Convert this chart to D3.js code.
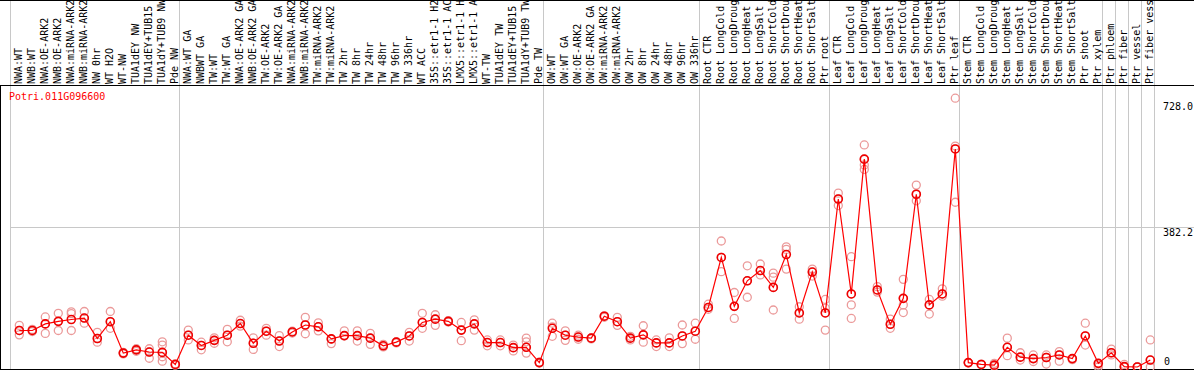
<!DOCTYPE html>
<html>
<head>
<meta charset="utf-8">
<script src="https://cdn.jsdelivr.net/npm/d3@7"></script>
<style>
  html, body { margin: 0; padding: 0; background: #fff; }
  svg { display: block; }
  text { font-family: "DejaVu Sans Mono", "Liberation Mono", monospace; font-size: 10px; }
</style>
</head>
<body>
<svg id="chart" width="1194" height="370"></svg>
<script>
const title = "Potri.011G096600";

const categories = [
  "NWA:WT","NWB:WT","NWA:OE-ARK2","NWB:OE-ARK2","NWA:miRNA-ARK2","NWB:miRNA-ARK2","NW 0hr","WT H2O","WT-NW",
  "TUA1dEY NW","TUA1dEY+TUB15 NW","TUA1dY+TUB9 NW","Pde NW",
  "NWA:WT GA","NWBWT GA","TW:WT","TW:WT GA","NWA:OE-ARK2 GA","NWB:OE-ARK2 GA","TW:OE-ARK2","TW:OE-ARK2 GA",
  "NWA:miRNA-ARK2 GA","NWB:miRNA-ARK2 GA","TW:miRNA-ARK2","TW:miRNA-ARK2",
  "TW 2hr","TW 8hr","TW 24hr","TW 48hr","TW 96hr","TW 336hr","WT ACC",
  "35S::etr1-1 H2O","35S::etr1-1 ACC","LMX5::etr1-1 H2O","LMX5::etr1-1 ACC",
  "WT-TW","TUA1dEY TW","TUA1dEY+TUB15 TW","TUA1dY+TUB9 TW","Pde TW",
  "OW:WT","OW:WT GA","OW:OE-ARK2","OW:OE-ARK2 GA","OW:miRNA-ARK2","OW:miRNA-ARK2",
  "OW 2hr","OW 8hr","OW 24hr","OW 48hr","OW 96hr","OW 336hr",
  "Root CTR","Root LongCold","Root LongDrought","Root LongHeat","Root LongSalt",
  "Root ShortCold","Root ShortDrought","Root ShortHeat","Root ShortSalt","Ptr root",
  "Leaf CTR","Leaf LongCold","Leaf LongDrought","Leaf LongHeat","Leaf LongSalt",
  "Leaf ShortCold","Leaf ShortDrought","Leaf ShortHeat","Leaf ShortSalt","Ptr leaf",
  "Stem CTR","Stem LongCold","Stem LongDrought","Stem LongHeat","Stem LongSalt",
  "Stem ShortCold","Stem ShortDrought","Stem ShortHeat","Stem ShortSalt",
  "Ptr shoot","Ptr xylem","Ptr phloem","Ptr fiber","Ptr vessel","Ptr fiber vessel"
];

const means = [
  100,100,118,125,130,134,78,124,38,
  47,41,40,7,
  87,59,73,87,119,65,98,71,
  96,115,110,77,
  86,86,79,58,68,85,122,
  131,125,101,118,
  67,67,53,54,12,
  106,87,82,79,139,124,
  79,88,66,66,85,98,
  163,300,166,236,264,
  218,308,148,260,148,
  460,200,569,211,117,
  188,473,170,200,597,
  12,7,5,54,27,
  23,26,33,23,
  85,10,39,1,0,19
];

const replicates = [
  [114,100,88],[97,100,103],[137,118,92],[147,125,100],[151,146,100],[152,134,120],[95,78,68],[152,124,106],[40,38,36],
  [50,47,43],[50,41,24],[69,60,40,28,16],[9,7,5],
  [101,87,74],[68,59,47],[80,73,65],[103,87,69],[128,119,112],[80,65,48],[106,98,87],[86,71,56],
  [98,96,93],[136,115,91],[121,110,99],[77,76,64],
  [99,86,85],[99,86,71],[92,79,62],[62,58,55],[69,68,66],[95,85,71],[147,122,106],
  [143,131,114],[127,125,123],[122,101,72],[129,118,101],
  [74,67,58],[74,67,58],[60,53,44],[79,69,54,38],[13,12,11],
  [120,110,84],[99,87,73],[87,82,76],[80,79,77],[140,139,136],[136,124,114],
  [84,79,74],[113,88,68],[74,66,56],[80,66,56],[115,85,64],[120,98,76],
  [172,163,158],[345,300,261],[204,166,133],[277,236,191],[282,264,252],
  [257,246,218,156],[329,322,268],[165,148,131],[268,260,249],[185,161,148,101],
  [476,460,442],[302,200,170,133],[608,569,553,541],[220,211,205],[131,117,106],
  [240,188,170,149],[498,473,455],[185,170,145],[214,200,194],[736,605,597,451],
  [12,12,11],[8,7,6],[10,5,2],[79,54,31],[39,27,19],
  [33,23,15],[33,26,8],[42,33,16],[23,22,20],
  [120,85,60],[10,5,0],[49,39,33],[7,1,0],[0,0,0],[74,19,0]
];

// indices of categories that start a new group (vertical separators)
const groupStarts = [0,13,41,53,63,73,84,85,86,87,88];
const yTicks = [728.0, 382.2, 0];
const yTickLabels = ["728.0", "382.2", "0"];
// the header shows at most this many characters per label (rest is clipped by the frame)
const maxLabelChars = 14;

const W = 1194, H = 370;
const labelBase = 84, headerLine = 85.5, bottom = 369.5;

const svg = d3.select("#chart");

const x = d3.scaleBand()
  .domain(d3.range(categories.length))
  .range([10.5, 10.5 + 13 * categories.length])
  .paddingInner(0).paddingOuter(0);
const px = i => x(i) + 8.8;

const y = d3.scaleLinear().domain([0, 728]).range([367, 101.1]);

// vertical group separators
svg.append("g").selectAll("line")
  .data(groupStarts)
  .join("line")
  .attr("x1", d => d < categories.length ? x(d) : x(categories.length - 1) + x.bandwidth())
  .attr("x2", d => d < categories.length ? x(d) : x(categories.length - 1) + x.bandwidth())
  .attr("y1", 0).attr("y2", H)
  .attr("stroke", "#c8c8c8").attr("stroke-width", 1);

// horizontal grid line at middle tick
svg.append("line")
  .attr("x1", 10.5).attr("x2", W)
  .attr("y1", Math.round(y(yTicks[1])) + 0.5).attr("y2", Math.round(y(yTicks[1])) + 0.5)
  .attr("stroke", "#c8c8c8").attr("stroke-width", 1);

// borders
svg.append("line").attr("x1", 0).attr("x2", W).attr("y1", 0.5).attr("y2", 0.5).attr("stroke", "#000");
svg.append("line").attr("x1", 0).attr("x2", W).attr("y1", headerLine).attr("y2", headerLine).attr("stroke", "#000");
svg.append("line").attr("x1", 0).attr("x2", W).attr("y1", bottom).attr("y2", bottom).attr("stroke", "#000");
svg.append("line").attr("x1", 0.5).attr("x2", 0.5).attr("y1", headerLine).attr("y2", H).attr("stroke", "#000");

// rotated category labels
svg.append("g").selectAll("text")
  .data(categories)
  .join("text")
  .attr("transform", (d, i) => `translate(${px(i) + 3},${labelBase}) rotate(-90)`)
  .attr("text-anchor", "start")
  .attr("fill", "#000")
  .text(d => d.slice(0, maxLabelChars).trimEnd());

// title
svg.append("text")
  .attr("x", 9).attr("y", 100)
  .attr("fill", "#ff0000")
  .text(title);

// y labels
svg.append("g").selectAll("text")
  .data(yTicks)
  .join("text")
  .attr("x", (d, i) => i === 2 ? 1164 : 1163)
  .attr("y", (d, i) => i === 2 ? 365 : y(d) + 8.5)
  .attr("fill", "#000")
  .text((d, i) => yTickLabels[i]);

// replicate circles
const repPts = [];
replicates.forEach((arr, i) => arr.forEach(v => repPts.push({ i, v })));
svg.append("g").selectAll("circle")
  .data(repPts)
  .join("circle")
  .attr("cx", d => px(d.i))
  .attr("cy", d => y(d.v))
  .attr("r", 4)
  .attr("fill", "none")
  .attr("stroke", "#eb9a9a")
  .attr("stroke-width", 1.3);

// mean line
const line = d3.line().x((d, i) => px(i)).y(d => y(d));
svg.append("path")
  .datum(means)
  .attr("d", line)
  .attr("fill", "none")
  .attr("stroke", "#ff0000")
  .attr("stroke-width", 1.2);

// mean circles
svg.append("g").selectAll("circle")
  .data(means)
  .join("circle")
  .attr("cx", (d, i) => px(i))
  .attr("cy", d => y(d))
  .attr("r", 4)
  .attr("fill", "none")
  .attr("stroke", "#ee0000")
  .attr("stroke-width", 1.6);
</script>
</body>
</html>
